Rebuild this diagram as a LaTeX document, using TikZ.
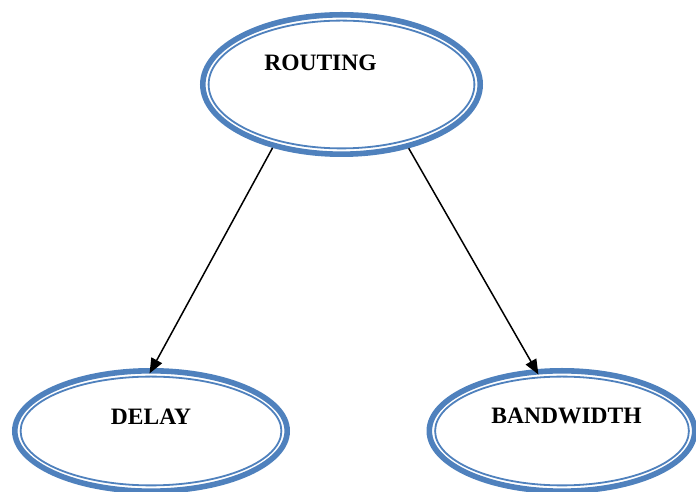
\documentclass[tikz,border=0pt]{standalone}
\usepackage{fontspec}
\setmainfont{Liberation Serif}
\usetikzlibrary{shapes.geometric,arrows.meta,calc}
\definecolor{ovalblue}{HTML}{4F81BD}
\tikzset{
  % thick outer ring of each oval; the node size is measured to the middle of the stroke
  oval/.style 2 args={ellipse, draw=ovalblue, line width=5.6pt, fill=white,
    inner sep=0pt, outer sep=0pt, minimum width=#1, minimum height=#2},
  % thin inner ring
  innerring/.style={draw=ovalblue, line width=1.8pt},
  lbl/.style={font=\bfseries\fontsize{23.5}{28}\selectfont, inner sep=0pt},
  link/.style={draw=black, line width=1.5pt,
    -{Triangle[length=15pt,width=12pt]}, shorten <=2.8pt, shorten >=-3pt}
}
\begin{document}
\begin{tikzpicture}[x=1pt,y=1pt]
  \useasboundingbox (0,0) rectangle (696,492);
  \clip (0,0) rectangle (696,492);

  % ovals
  \node[oval={277.4pt}{139.4pt}] (routing) at (341.5,407.5) {};
  \draw[innerring] (routing.center) ellipse [x radius=132.9, y radius=63.9];

  \node[oval={272.4pt}{120.4pt}] (delay) at (151,61) {};
  \draw[innerring] (delay.center) ellipse [x radius=130.4, y radius=54.4];

  \node[oval={265.4pt}{120.4pt}] (bandwidth) at (562,61) {};
  \draw[innerring] (bandwidth.center) ellipse [x radius=126.9, y radius=54.4];

  % labels
  \node[lbl] (routingtxt) at ($(routing.center)+(-21,21.5)$) {ROUTING};
  \node[lbl] (delaytxt) at ($(delay.center)+(0,14.5)$) {DELAY};
  \node[lbl] (bandwidthtxt) at ($(bandwidth.center)+(4.5,15)$) {BANDWIDTH};

  % connectors
  \draw[link] (routing.222.4) -- (delay.90.5);
  \draw[link] (routing.317.6) -- (bandwidth.113.3);
\end{tikzpicture}
\end{document}
